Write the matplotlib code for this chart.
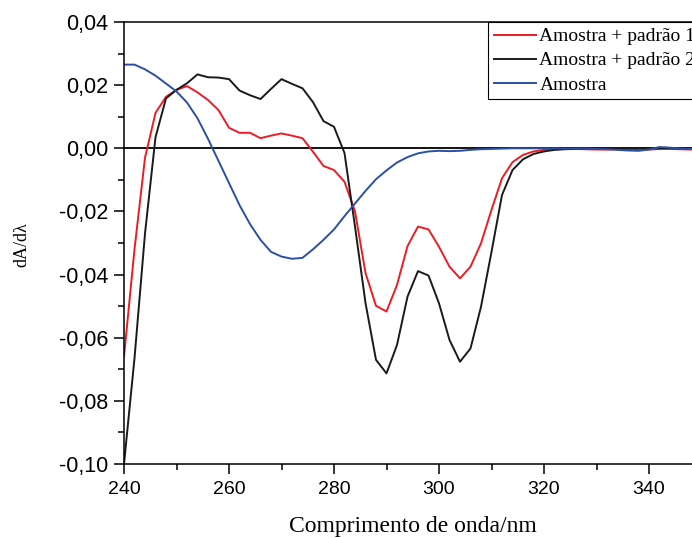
import numpy as np
import matplotlib
matplotlib.use("Agg")
from matplotlib import pyplot as plt
from matplotlib.ticker import MultipleLocator, FuncFormatter

# comprimento de onda (nm), passo de 2 nm
wl = np.arange(240, 350, 2)

# Amostra + padrão 1
padrao1 = [-0.066, -0.032, -0.003, 0.0112, 0.0163, 0.0185, 0.0197, 0.0177,
           0.0153, 0.0121, 0.0065, 0.0049, 0.0049, 0.0032, 0.0040, 0.0047,
           0.0040, 0.0032, -0.0011, -0.0056, -0.0069, -0.0106, -0.0200,
           -0.0395, -0.0499, -0.0517, -0.0433, -0.0310, -0.0248, -0.0257,
           -0.0312, -0.0375, -0.0412, -0.0375, -0.0301, -0.0195, -0.0095,
           -0.0044, -0.0021, -0.0010, -0.0005, -0.0003, -0.0002, -0.0002,
           -0.0003, -0.0004, -0.0004, -0.0003, -0.0005, -0.0005, -0.0004,
           -0.0002, -0.0002, -0.0003, -0.0004]

# Amostra + padrão 2
padrao2 = [-0.100, -0.0665, -0.027, 0.0035, 0.0158, 0.0185, 0.0206, 0.0234,
           0.0225, 0.0224, 0.0219, 0.0183, 0.0168, 0.0156, 0.0188, 0.0219,
           0.0204, 0.0190, 0.0146, 0.0086, 0.0068, -0.0015, -0.0248, -0.0490,
           -0.0670, -0.0713, -0.0623, -0.0470, -0.0389, -0.0403, -0.0491,
           -0.0607, -0.0676, -0.0634, -0.0502, -0.0328, -0.0148, -0.0069,
           -0.0035, -0.0018, -0.0010, -0.0005, -0.0003, -0.0002, -0.0001,
           -0.0001, -0.0001, 0.0000, 0.0000, 0.0000, 0.0000, 0.0000,
           0.0000, 0.0000, 0.0000]

# Amostra
amostra = [0.0265, 0.0265, 0.0250, 0.0230, 0.0205, 0.0180, 0.0145, 0.0095,
           0.0030, -0.0040, -0.0110, -0.0180, -0.0240, -0.0290, -0.0328,
           -0.0343, -0.0350, -0.0347, -0.0320, -0.0290, -0.0257, -0.0215,
           -0.0175, -0.0135, -0.0098, -0.0070, -0.0045, -0.0028, -0.0016,
           -0.0010, -0.0008, -0.0009, -0.0008, -0.0005, -0.0003, -0.0002,
           -0.0001, 0.0000, 0.0000, 0.0000, 0.0000, 0.0000, -0.0001,
           -0.0001, -0.0001, -0.0002, -0.0003, -0.0005, -0.0007, -0.0008,
           -0.0004, 0.0004, 0.0002, -0.0001, -0.0002]


def virgula(v, pos):
    s = f"{v:.2f}"
    if s == "-0.00":
        s = "0.00"
    return s.replace(".", ",")


fig = plt.figure(figsize=(6.92, 5.38), dpi=100)
ax = fig.add_axes([124 / 692, 74 / 538, 577.5 / 692, 442 / 538])

ax.axhline(0, color="black", lw=1.3, zorder=1)
ax.plot(wl, padrao1, color="#ec1c24", lw=1.4, label="Amostra + padrão 1")
ax.plot(wl, padrao2, color="#1a1a1a", lw=1.4, label="Amostra + padrão 2")
ax.plot(wl, amostra, color="#2b4fa6", lw=1.4, label="Amostra")

ax.set_xlim(240, 350)
ax.set_ylim(-0.10, 0.04)
ax.xaxis.set_major_locator(MultipleLocator(20))
ax.xaxis.set_minor_locator(MultipleLocator(10))
ax.yaxis.set_major_locator(MultipleLocator(0.02))
ax.yaxis.set_minor_locator(MultipleLocator(0.01))
ax.yaxis.set_major_formatter(FuncFormatter(virgula))

ax.tick_params(which="major", direction="out", length=7, width=1.1)
ax.tick_params(which="minor", direction="out", length=4, width=1.1)
ax.tick_params(axis="x", labelsize=14, pad=5)
ax.tick_params(axis="y", labelsize=15.5, pad=4)
for lab in ax.get_xticklabels() + ax.get_yticklabels():
    lab.set_fontfamily("Liberation Sans")
for s in ax.spines.values():
    s.set_linewidth(1.1)

ax.set_xlabel("Comprimento de onda/nm", fontfamily="Liberation Serif",
              fontsize=17, labelpad=13)
fig.text(22 / 692, 1 - 245 / 538, "dA/d\u03bb", rotation=90, ha="center",
         va="center", fontfamily="Liberation Serif", fontsize=13)

leg = ax.legend(loc="upper left", bbox_to_anchor=(0.63, 1.0), borderaxespad=0,
                prop={"family": "Liberation Serif", "size": 14},
                handlelength=2.2, handletextpad=0.15, labelspacing=0.33,
                borderpad=0.3, fancybox=False, framealpha=1)
leg.get_frame().set_edgecolor("black")
leg.get_frame().set_linewidth(0.8)

fig.savefig("out.png", dpi=100)
